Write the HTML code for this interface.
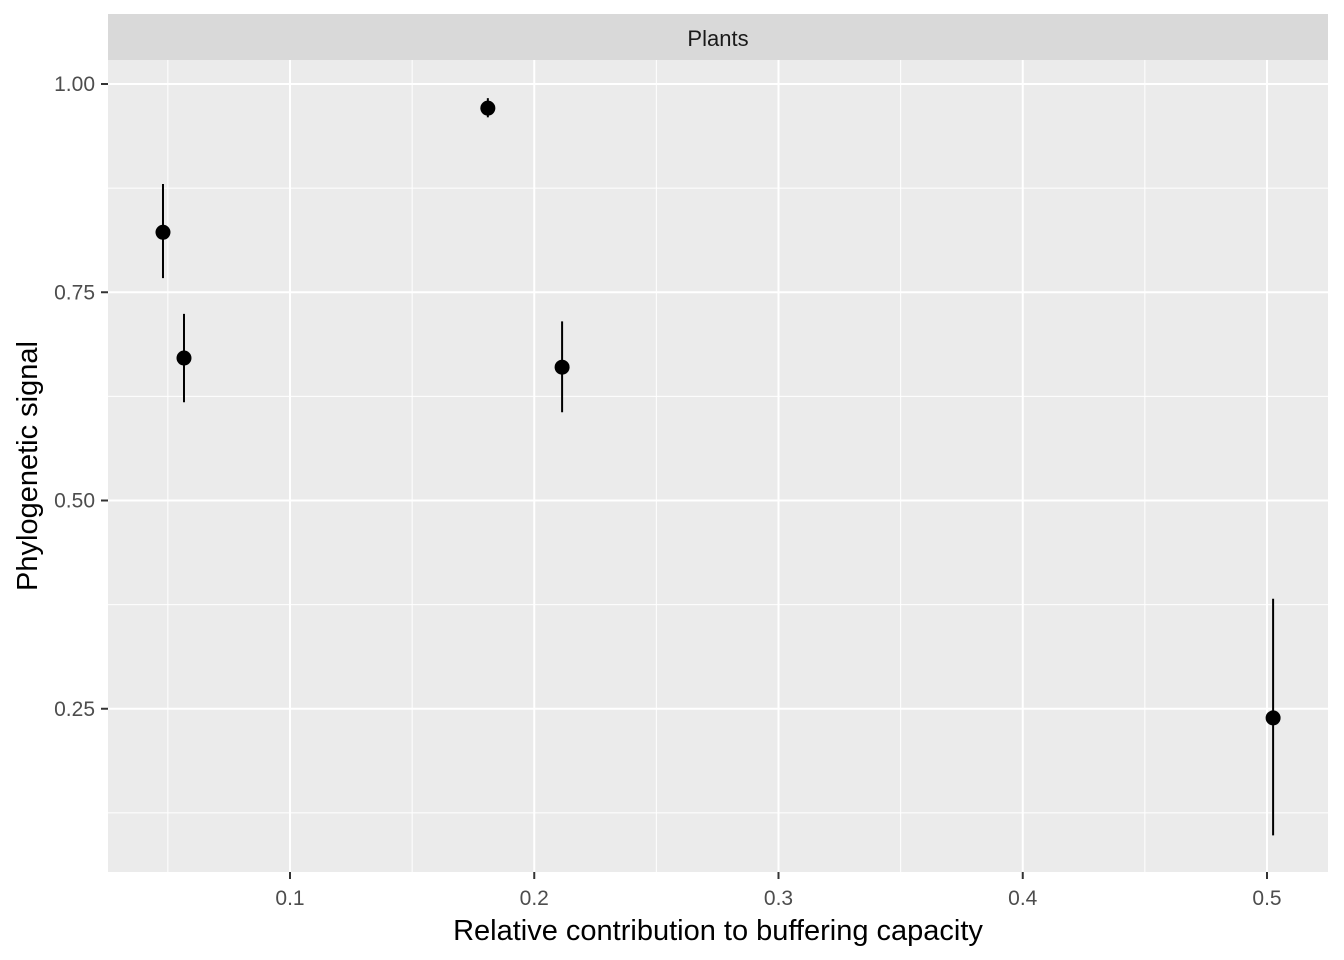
<!DOCTYPE html>
<html><head><meta charset="utf-8"><style>
body{margin:0;background:#fff;}
svg{display:block;font-family:"Liberation Sans",sans-serif;}
</style></head><body>
<svg id="chart" width="1344" height="960">
<rect x="0" y="0" width="1344" height="960" fill="#fff"/>
<rect x="108" y="14" width="1220" height="46" fill="#d9d9d9"/>
<text x="718" y="46" font-size="22" text-anchor="middle" fill="#1a1a1a">Plants</text>
<rect x="108" y="60" width="1220" height="812" fill="#ebebeb"/>
<g id="grid"></g><g id="marks"></g><g id="axes"></g>
<text x="718" y="940" font-size="29" text-anchor="middle" fill="#000">Relative contribution to buffering capacity</text>
<text transform="translate(37,466) rotate(-90)" font-size="29" text-anchor="middle" fill="#000">Phylogenetic signal</text>
</svg>
<script>
const xs=[0.048,0.0566,0.181,0.2114,0.5025];
const ys=[0.822,0.671,0.971,0.660,0.239];
const lo=[0.767,0.618,0.960,0.606,0.098];
const hi=[0.880,0.724,0.983,0.715,0.382];
const xTicks=[0.1,0.2,0.3,0.4,0.5];
const xTickLabels=["0.1","0.2","0.3","0.4","0.5"];
const yTicks=[0.25,0.5,0.75,1.0];
const yTickLabels=["0.25","0.50","0.75","1.00"];
const X=v=>290+(v-0.1)*2442.5;
const Y=v=>84+(1-v)*833;
const NS="http://www.w3.org/2000/svg";
function mk(t,a,p){const e=document.createElementNS(NS,t);for(const k in a)e.setAttribute(k,a[k]);p.appendChild(e);return e;}
const g=document.getElementById('grid'),m=document.getElementById('marks'),ax=document.getElementById('axes');
const minorX=[0.05,0.15,0.25,0.35,0.45];
minorX.forEach(v=>{const l=mk('line',{x1:X(v),x2:X(v),y1:60,y2:872,stroke:'#fff','stroke-width':1},g);

});
[0.125,0.375,0.625,0.875].forEach(v=>{const l=mk('line',{x1:108,x2:1328,y1:Y(v),y2:Y(v),stroke:'#fff','stroke-width':1},g);

});
xTicks.forEach((v,i)=>{const l=mk('line',{x1:X(v),x2:X(v),y1:60,y2:872,stroke:'#fff','stroke-width':2},g);


const t=mk('line',{x1:X(v),x2:X(v),y1:872,y2:879,stroke:'#333','stroke-width':2},ax);


const tx=mk('text',{x:X(v),y:905,'font-size':21,'text-anchor':'middle',fill:'#4d4d4d'},ax);tx.textContent=xTickLabels[i];

});
yTicks.forEach((v,i)=>{const l=mk('line',{x1:108,x2:1328,y1:Y(v),y2:Y(v),stroke:'#fff','stroke-width':2},g);


const t=mk('line',{x1:101,x2:108,y1:Y(v),y2:Y(v),stroke:'#333','stroke-width':2},ax);


const tx=mk('text',{x:95,y:Y(v)+7,'font-size':21,'text-anchor':'end',fill:'#4d4d4d'},ax);tx.textContent=yTickLabels[i];

});
xs.forEach((v,i)=>{const l=mk('line',{x1:X(v),x2:X(v),y1:Y(hi[i]),y2:Y(lo[i]),stroke:'#000','stroke-width':2},m);


const c=mk('circle',{cx:X(v),cy:Y(ys[i]),r:7.5,fill:'#000'},m);

});
</script>
</body></html>
